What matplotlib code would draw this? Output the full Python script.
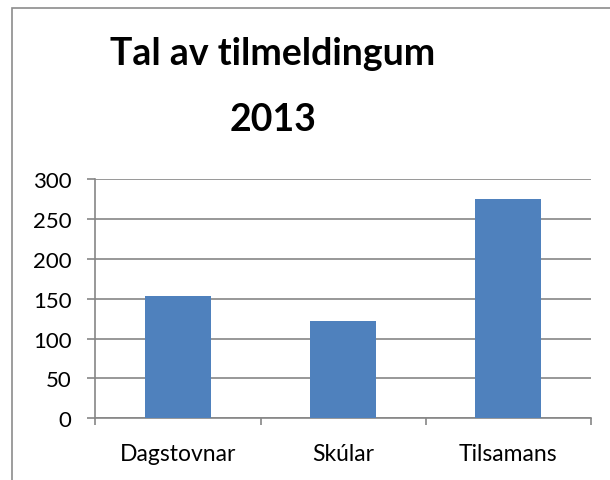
import matplotlib.pyplot as plt
from matplotlib.patches import Rectangle

categories = ["Dagstovnar", "Skúlar", "Tilsamans"]
values = [153, 122, 275]
y_ticks = [0, 50, 100, 150, 200, 250, 300]
title_lines = ["Tal av tilmeldingum", "2013"]

W, H = 610, 481
fig = plt.figure(figsize=(W / 100, H / 100), dpi=100)
plt.rcParams['font.family'] = ['Lato', 'DejaVu Sans']

# outer chart frame (cut off at right/bottom as in the screenshot)
fig.patches.append(Rectangle((12 / W, -0.2), 1.2, 1 - 9 / H + 0.2,
                             transform=fig.transFigure, fill=False,
                             edgecolor='#8c8c8c', linewidth=1.2))

ax = fig.add_axes([95.3 / W, 1 - 419.3 / H, (591 - 95.3) / W, (419.3 - 180) / H])
x = list(range(len(categories)))
ax.bar(x, values, width=0.4, color='#4f81bd', zorder=3)
ax.set_xlim(-0.5, len(categories) - 0.5)
ax.set_ylim(0, 300)
ax.set_yticks(y_ticks)
ax.set_yticklabels([str(t) for t in y_ticks], fontsize=16)
ax.yaxis.grid(True, color='#868686', linewidth=1.2, zorder=0)
ax.set_xticks([-0.5, 0.5, 1.5, 2.5])
ax.set_xticklabels([])
ax.set_xticks(x, minor=True)
ax.set_xticklabels(categories, minor=True, fontsize=16.5)
ax.tick_params(axis='x', which='minor', length=0, pad=18)
ax.tick_params(axis='x', which='major', length=5, color='#868686', width=1.2)
ax.tick_params(axis='y', length=6, color='#868686', width=1.2, pad=11)
for s in ['top', 'right']:
    ax.spines[s].set_visible(False)
for s in ['left', 'bottom']:
    ax.spines[s].set_color('#868686')
    ax.spines[s].set_linewidth(1.2)

fig.text(273 / W, 1 - 65 / H, title_lines[0], ha='center', va='baseline',
         fontsize=27, fontweight='bold')
fig.text(273 / W, 1 - 131 / H, title_lines[1], ha='center', va='baseline',
         fontsize=27, fontweight='bold')

fig.savefig("out.png", dpi=100)
